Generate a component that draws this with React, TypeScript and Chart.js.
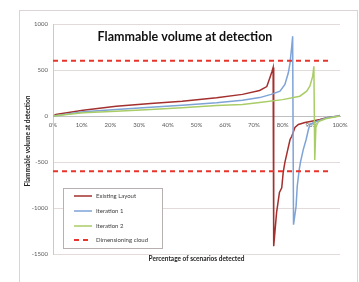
import { useEffect, useRef } from "react";
import { Chart, registerables } from "chart.js";
Chart.register(...registerables);

const chartTitle = "Flammable volume at detection";
const yTitle = "Flammable volume at detection";
const xTitle = "Percentage of scenarios detected";
const seriesNames = ["Existing Layout", "Iteration 1", "Iteration 2", "Dimensioning cloud"];
const seriesColors = ["#a3302e", "#7ea3d6", "#a9cd66", "#e8342c"];

const existingX = [0, 1, 10.5, 22, 34, 45, 57, 66, 72, 74.5, 75.6, 76.3, 76.7, 76.9, 77.9, 78.9, 79.7, 80.2, 80.8, 81.8, 82.6, 83.2, 84.3, 85.5, 87.8, 90.1, 93, 95.4, 98.9, 100];
const existingY = [0, 16, 63, 107, 136, 161, 198, 235, 277, 320, 418, 484, 527, -1415, -1050, -830, -780, -615, -505, -365, -255, -220, -125, -92, -70, -56, -38, -20, -2, 5];

const iter1X = [0, 10.5, 22, 34, 45, 57, 66, 72, 76, 79.1, 80.8, 82, 82.6, 83.2, 83.5, 83.8, 84.7, 85.1, 85.8, 86.3, 87.2, 88.2, 89, 89.5, 90.7, 95.4, 100];
const iter1Y = [0, 45, 70, 96, 118, 143, 170, 200, 235, 270, 342, 470, 578, 759, 867, -1182, -980, -763, -580, -490, -365, -255, -147, -92, -74, -20, 3];

const iter2X = [0, 10.5, 22, 34, 45, 57, 66, 72, 80, 86, 88.4, 89.5, 90.5, 90.9, 91.2, 91.6, 92.5, 95, 98, 100];
const iter2Y = [0, 35, 52, 70, 89, 114, 125, 147, 178, 215, 270, 324, 433, 541, -478, -120, -60, -30, -10, 0];

const cloudX = [0, 97];
const cloudUpper = [600, 600];
const cloudLower = [-600, -600];

const yTicks = [1000, 500, 0, -500, -1000, -1500];
const xTicks = [0, 10, 20, 30, 40, 50, 60, 70, 80, 90, 100];

const FONT = "Lato, 'Open Sans', sans-serif";

const pts = (xs: number[], ys: number[]) => xs.map((x, i) => ({ x, y: ys[i] }));

const decor = {
  id: "decor",
  beforeDraw(chart: any) {
    const ctx = chart.ctx;
    ctx.save();
    ctx.fillStyle = "#ffffff";
    ctx.fillRect(0, 0, chart.width, chart.height);
    ctx.strokeStyle = "#dcd4d4";
    ctx.lineWidth = 1;
    ctx.strokeRect(19.5, 10.5, 338, 290);
    ctx.restore();
  },
  afterDraw(chart: any) {
    const ctx = chart.ctx;
    const a = chart.chartArea;
    ctx.save();
    // main title
    ctx.fillStyle = "#111111";
    ctx.font = `bold 12.5px ${FONT}`;
    ctx.textAlign = "center";
    ctx.textBaseline = "middle";
    ctx.fillText(chartTitle, 185, 37);
    // x title
    ctx.font = `bold 6.5px ${FONT}`;
    ctx.fillStyle = "#222222";
    ctx.fillText(xTitle, (a.left + a.right) / 2, 259);
    // y title
    ctx.save();
    ctx.translate(28, (a.top + a.bottom) / 2 + 2);
    ctx.rotate(-Math.PI / 2);
    ctx.fillText(yTitle, 0, 0);
    ctx.restore();
    // legend
    const lx = 63.5, ly = 188.5, lw = 99, lh = 60;
    ctx.fillStyle = "#ffffff";
    ctx.fillRect(lx, ly, lw, lh);
    ctx.strokeStyle = "#b8b0b0";
    ctx.lineWidth = 1;
    ctx.strokeRect(lx, ly, lw, lh);
    const rows = [196, 211, 226, 240];
    ctx.font = `6px ${FONT}`;
    ctx.textAlign = "left";
    seriesNames.forEach((name, i) => {
      const y = rows[i];
      ctx.strokeStyle = seriesColors[i];
      if (i === 3) {
        ctx.lineWidth = 2;
        ctx.setLineDash([5, 4]);
      } else {
        ctx.lineWidth = 1.5;
        ctx.setLineDash([]);
      }
      ctx.beginPath();
      ctx.moveTo(74, y);
      ctx.lineTo(92, y);
      ctx.stroke();
      ctx.setLineDash([]);
      ctx.fillStyle = "#404040";
      ctx.fillText(name, 96, y);
    });
    ctx.restore();
  },
};

export default function App() {
  const ref = useRef<HTMLCanvasElement>(null);
  useEffect(() => {
    if (!ref.current) return;
    const chart = new Chart(ref.current, {
      type: "line",
      data: {
        datasets: [
          { label: seriesNames[0], data: pts(existingX, existingY), borderColor: seriesColors[0], borderWidth: 1.5, order: 5 },
          { label: seriesNames[1], data: pts(iter1X, iter1Y), borderColor: seriesColors[1], borderWidth: 1.5, order: 4 },
          { label: seriesNames[2], data: pts(iter2X, iter2Y), borderColor: seriesColors[2], borderWidth: 1.5, order: 3 },
          { label: seriesNames[3], data: pts(cloudX, cloudUpper), borderColor: seriesColors[3], borderWidth: 2, borderDash: [5, 4], order: 2 },
          { label: seriesNames[3] + " (lower)", data: pts(cloudX, cloudLower), borderColor: seriesColors[3], borderWidth: 2, borderDash: [5, 4], order: 1 },
        ] as any,
      },
      options: {
        responsive: false,
        animation: false,
        parsing: true as any,
        elements: { point: { radius: 0 }, line: { tension: 0 } },
        layout: { padding: { top: 24, right: 19, bottom: 28, left: 0 } },
        plugins: { legend: { display: false }, tooltip: { enabled: false }, title: { display: false } },
        scales: {
          x: {
            type: "linear",
            min: 0,
            max: 100,
            position: { y: 0 } as any,
            afterBuildTicks: (s: any) => { s.ticks = xTicks.map((v) => ({ value: v })); },
            ticks: { callback: (v: any) => v + "%", font: { family: FONT, size: 6 }, color: "#595959", padding: 5, maxRotation: 0, autoSkip: false },
            grid: { display: false, drawTicks: false },
            border: { display: true, color: "#bfbfbf", width: 1 },
          },
          y: {
            type: "linear",
            min: -1500,
            max: 1000,
            afterBuildTicks: (s: any) => { s.ticks = yTicks.map((v) => ({ value: v })); },
            afterFit: (s: any) => { s.width = 53; },
            ticks: { callback: (v: any) => String(v), font: { family: FONT, size: 6 }, color: "#595959", padding: 5 },
            grid: { color: "#e3dada", drawTicks: false },
            border: { display: true, color: "#d0c8c8", width: 1 },
          },
        },
      },
      plugins: [decor],
    });
    return () => chart.destroy();
  }, []);
  return (
    <div style={{ position: "absolute", left: 0, top: 0, width: 359, height: 282 }}>
      <canvas ref={ref} width={359} height={282} style={{ display: "block", width: 359, height: 282 }} />
    </div>
  );
}
